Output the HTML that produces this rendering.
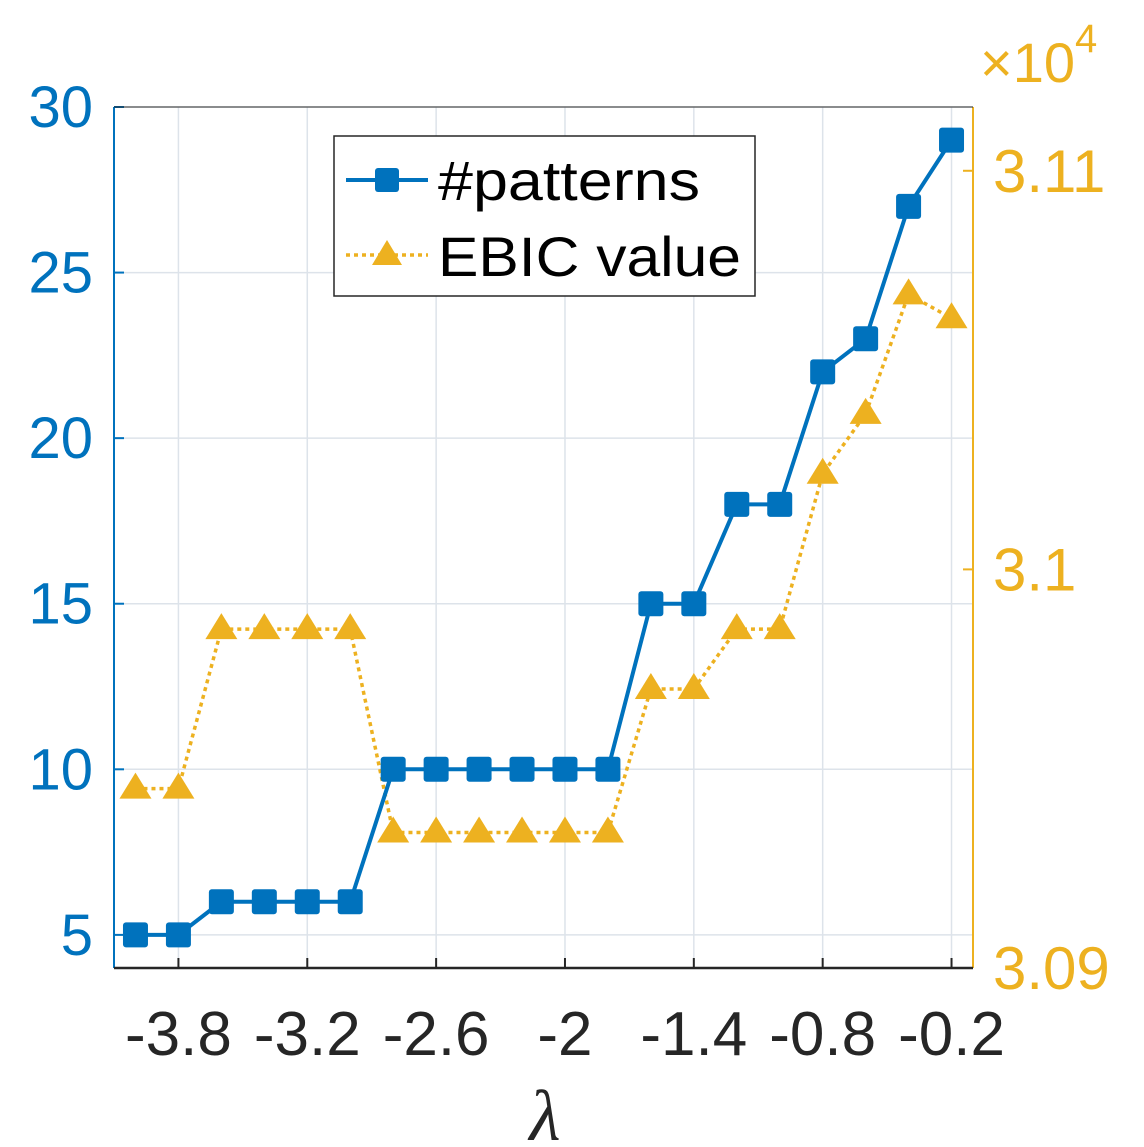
<!DOCTYPE html>
<html><head><meta charset="utf-8"><style>
body{margin:0;background:#fff}
svg{display:block;font-family:"Liberation Sans",sans-serif}
</style></head><body>
<svg width="1144" height="1147" viewBox="0 0 1144 1147">
<g id="grid"></g>
<g id="series"></g>
<g id="axes"></g>
<g>
<rect x="334" y="136" width="421" height="160" fill="#fff" stroke="#262626" stroke-width="1.5"/>
<g>
<line x1="346" y1="180" x2="428" y2="180" stroke="#0072BD" stroke-width="4"/>
<rect x="375" y="168" width="24" height="24" rx="3" fill="#0072BD"/>
<text x="438" y="200" font-size="56" fill="#000" textLength="262" lengthAdjust="spacingAndGlyphs">#patterns</text></g>
<g>
<line x1="346" y1="255" x2="428" y2="255" stroke="#EDB120" stroke-width="3.5" stroke-dasharray="4,4"/>
<polygon points="387,240 402,265 372,265" fill="#EDB120"/>
<text x="438" y="276" font-size="56" fill="#000" textLength="303" lengthAdjust="spacingAndGlyphs">EBIC value</text></g>
</g>
<text x="545" y="1140" font-size="72" font-style="italic" fill="#262626" font-family="Liberation Serif,serif" text-anchor="middle">λ</text>
<text x="980" y="82" font-size="56" fill="#EDB120">×10<tspan font-size="40" dy="-30">4</tspan></text>
<script>
const lambdas=[-4.0,-3.8,-3.6,-3.4,-3.2,-3.0,-2.8,-2.6,-2.4,-2.2,-2.0,-1.8,-1.6,-1.4,-1.2,-1.0,-0.8,-0.6,-0.4,-0.2];
const patterns=[5,5,6,6,6,6,10,10,10,10,10,10,15,15,18,18,22,23,27,29];
const ebic=[30945,30945,30985,30985,30985,30985,30934,30934,30934,30934,30934,30934,30970,30970,30985,30985,31024,31039,31069,31063];
const xTicks=[-3.8,-3.2,-2.6,-2.0,-1.4,-0.8,-0.2];
const xTickLabels=["-3.8","-3.2","-2.6","-2","-1.4","-0.8","-0.2"];
const yTicks=[5,10,15,20,25,30];
const y2Ticks=[30900,31000,31100];
const y2TickLabels=["3.09","3.1","3.11"];
const L=114,R=973,T=107,B=968;
const X=v=>L+(v-(-4.1))/4.0*(R-L);
const Y=v=>B-(v-4)/26*(B-T);
const Y2=v=>B-(v-30900)/216*(B-T);
const NS="http://www.w3.org/2000/svg";
function mk(p,tag,a){const e=document.createElementNS(NS,tag);for(const k in a)e.setAttribute(k,a[k]);p.appendChild(e);return e;}
const grid=document.getElementById('grid'),ser=document.getElementById('series'),ax=document.getElementById('axes');
xTicks.forEach((t,i)=>{
 const g=mk(grid,'line',{x1:X(t),x2:X(t),y1:T,y2:B,stroke:'#dde3ea','stroke-width':1.5});
 
 
 const tk=mk(ax,'line',{x1:X(t),x2:X(t),y1:B,y2:B-10,stroke:'#262626','stroke-width':2});
 
 
 const tx=mk(ax,'text',{x:X(t),y:1055,'font-size':62,'text-anchor':'middle',fill:'#262626'});
 tx.textContent=xTickLabels[i];
 
 
});
yTicks.forEach(t=>{
 const g=mk(grid,'line',{x1:L,x2:R,y1:Y(t),y2:Y(t),stroke:'#dde3ea','stroke-width':1.5});
 
 
 const tk=mk(ax,'line',{x1:L,x2:L+10,y1:Y(t),y2:Y(t),stroke:'#0072BD','stroke-width':2});
 
 
 const tx=mk(ax,'text',{x:93,y:Y(t)+20,'font-size':58,'text-anchor':'end',fill:'#0072BD'});
 tx.textContent=String(t);
 
 
});
y2Ticks.forEach((t,i)=>{
 const tk=mk(ax,'line',{x1:R,x2:R-10,y1:Y2(t),y2:Y2(t),stroke:'#EDB120','stroke-width':2});
 
 
 const tx=mk(ax,'text',{x:993,y:Y2(t)+21,'font-size':60,fill:'#EDB120'});
 tx.textContent=y2TickLabels[i];
 
 
});
let a=mk(ax,'line',{x1:L,x2:L,y1:T,y2:B,stroke:'#0072BD','stroke-width':2});

a=mk(ax,'line',{x1:R,x2:R,y1:T,y2:B,stroke:'#EDB120','stroke-width':2});

a=mk(ax,'line',{x1:L,x2:R,y1:B,y2:B,stroke:'#262626','stroke-width':2.5});

a=mk(ax,'line',{x1:L,x2:R,y1:T,y2:T,stroke:'#262626','stroke-width':1});

const l2=mk(ser,'polyline',{points:lambdas.map((v,i)=>X(v)+','+Y2(ebic[i])).join(' '),fill:'none',stroke:'#EDB120','stroke-width':3.5,'stroke-dasharray':'4,4'});


const l1=mk(ser,'polyline',{points:lambdas.map((v,i)=>X(v)+','+Y(patterns[i])).join(' '),fill:'none',stroke:'#0072BD','stroke-width':4});


lambdas.forEach((v,i)=>{
 const x=X(v),y=Y2(ebic[i]);
 const p=mk(ser,'polygon',{points:`${x},${y-16} ${x+16},${y+10} ${x-16},${y+10}`,fill:'#EDB120'});
 
 
});
lambdas.forEach((v,i)=>{
 const x=X(v),y=Y(patterns[i]);
 const r=mk(ser,'rect',{x:x-12.5,y:y-12.5,width:25,height:25,rx:3,fill:'#0072BD'});
 
 
});
</script>
</svg>
</body></html>
